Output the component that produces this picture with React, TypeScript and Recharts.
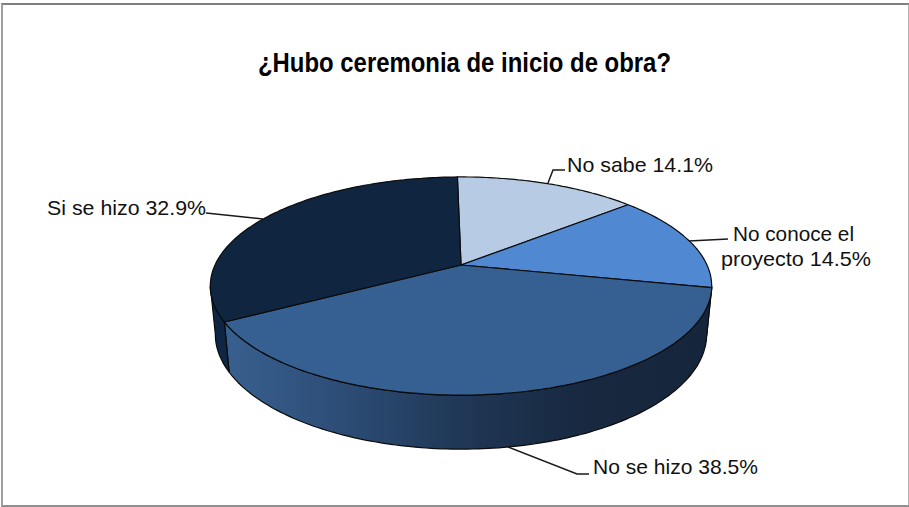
import { PieChart, Pie, Cell } from 'recharts';

const CATEGORIES = ['No sabe', 'No conoce el proyecto', 'No se hizo', 'Si se hizo'];
const PERCENTS = [14.1, 14.5, 38.5, 32.9];
const COLORS = ['#b7cbe4', '#5088d2', '#365f92', '#10253f'];
const WALL_COLORS = ['#8b9db5', '#3a6396', 'url(#wallFade)', '#0e2643'];
const LABEL_LINES = [
  ['No sabe 14.1%'],
  ['No conoce el', 'proyecto 14.5%'],
  ['No se hizo 38.5%'],
  ['Si se hizo 32.9%'],
];

const data = CATEGORIES.map((name, i) => ({ name, value: PERCENTS[i] }));

// where the text and the leader lines sit, same order as CATEGORIES
const TEXT_SPOTS = [
  [[567, 172]],
  [[733, 241], [721, 266]],
  [[593, 474]],
  [[47, 215]],
];
const TEXT_WIDTHS = [[146], [121, 150], [165], [159]];
const LEADERS = [
  '548,183 553,170 565,170',
  '689,241 728,239',
  '508,447 577,474 589,474',
  '206,213 263,219',
];

const TILT = 0.427; // vertical squash of the disc
const PERSPECTIVE = 0.1926;
// the wall only shows between the two side extremes of the disc
const FRONT_FROM = -11.1;
const FRONT_TO = -168.9;
const FONT = '"Liberation Sans", Arial, sans-serif';

// disc angle to screen, far side of the disc shrinks towards the apex
function project(cx: number, cy: number, r: number, angle: number) {
  const rad = (angle * Math.PI) / 180;
  const X = Math.cos(rad);
  const Y = -Math.sin(rad);
  const w = 1 - PERSPECTIVE * Y;
  return [cx + (r * X) / w, cy + (r * TILT * Y) / w];
}

// rim of the lower edge, a bit narrower and further down
function lower(cx: number, p: number[]) {
  return [cx + (p[0] - cx) * 0.98, p[1] * 1.055 + 32.3];
}

function arcPoints(cx: number, cy: number, r: number, from: number, to: number) {
  const steps = Math.max(2, Math.ceil(Math.abs(to - from)));
  const pts: number[][] = [];
  for (let i = 0; i <= steps; i++) {
    pts.push(project(cx, cy, r, from + ((to - from) * i) / steps));
  }
  return pts;
}

const toPath = (pts: number[][]) => pts.map((p, i) => `${i ? 'L' : 'M'}${p[0].toFixed(1)},${p[1].toFixed(1)}`).join(' ');

function Slice3D(props: any) {
  const { cx, cy, outerRadius, startAngle, endAngle, fill, index } = props;
  const arc = arcPoints(cx, cy, outerRadius, startAngle, endAngle);
  const idx = index ?? COLORS.indexOf(fill);
  const wallFrom = Math.min(startAngle, FRONT_FROM);
  const wallTo = Math.max(endAngle, FRONT_TO);
  let wall = null;
  if (wallFrom > wallTo) {
    const front = arcPoints(cx, cy, outerRadius, wallFrom, wallTo);
    const rim = front.map((p) => lower(cx, p)).reverse();
    wall = <path d={`${toPath([...front, ...rim])} Z`} fill={WALL_COLORS[idx]} stroke="#0b0b0b" strokeWidth={1.2} strokeLinejoin="round" />;
  }
  return (
    <g>
      <defs>
        <linearGradient id="wallFade" gradientUnits="userSpaceOnUse" x1="225" y1="0" x2="711" y2="0">
          <stop offset="0" stopColor="#38608f" />
          <stop offset="0.25" stopColor="#2c4c75" />
          <stop offset="0.5" stopColor="#1f3654" />
          <stop offset="0.75" stopColor="#17283f" />
          <stop offset="1" stopColor="#15263c" />
        </linearGradient>
      </defs>
      {wall}
      <path d={`M${cx},${cy} ${toPath(arc).replace('M', 'L')} Z`} fill={fill} stroke="#0b0b0b" strokeWidth={1.2} strokeLinejoin="round" />
    </g>
  );
}

function SliceLabel(props: any) {
  const { index } = props;
  return (
    <g>
      <polyline points={LEADERS[index]} fill="none" stroke="#1a1a1a" strokeWidth={1.5} />
      {LABEL_LINES[index].map((line, i) => (
        <text
          key={line}
          x={TEXT_SPOTS[index][i][0]}
          y={TEXT_SPOTS[index][i][1]}
          textLength={TEXT_WIDTHS[index][i]}
          lengthAdjust="spacingAndGlyphs"
          fontFamily={FONT}
          fontSize={21}
          fill="#111"
        >
          {line}
        </text>
      ))}
    </g>
  );
}

export default function App() {
  return (
    <div style={{ position: 'absolute', left: 0, top: 0, width: 909, height: 507, background: '#fff' }}>
      <div
        style={{
          position: 'absolute',
          left: 1,
          top: 3,
          width: 905,
          height: 500,
          borderTop: '2px solid #808080',
          borderLeft: '2px solid #a0a0a0',
          borderRight: '2px solid #b4b4b4',
          borderBottom: '2px solid #909090',
        }}
      />
      <PieChart width={909} height={507} margin={{ top: 0, right: 0, bottom: 0, left: 0 }} style={{ position: 'absolute', left: 0, top: 0 }}>
        <text
          x={258}
          y={72}
          textLength={413}
          lengthAdjust="spacingAndGlyphs"
          fontFamily='"Liberation Sans", sans-serif'
          fontWeight="bold"
          fontSize={27}
          fill="#000"
        >
          ¿Hubo ceremonia de inicio de obra?
        </text>
        <Pie
          data={data}
          dataKey="value"
          nameKey="name"
          cx={461}
          cy={265}
          outerRadius={246}
          startAngle={91}
          endAngle={-269}
          stroke="none"
          shape={Slice3D}
          label={SliceLabel}
          labelLine={false}
          isAnimationActive={false}
        >
          {data.map((d, i) => (
            <Cell key={d.name} fill={COLORS[i]} />
          ))}
        </Pie>
      </PieChart>
    </div>
  );
}
